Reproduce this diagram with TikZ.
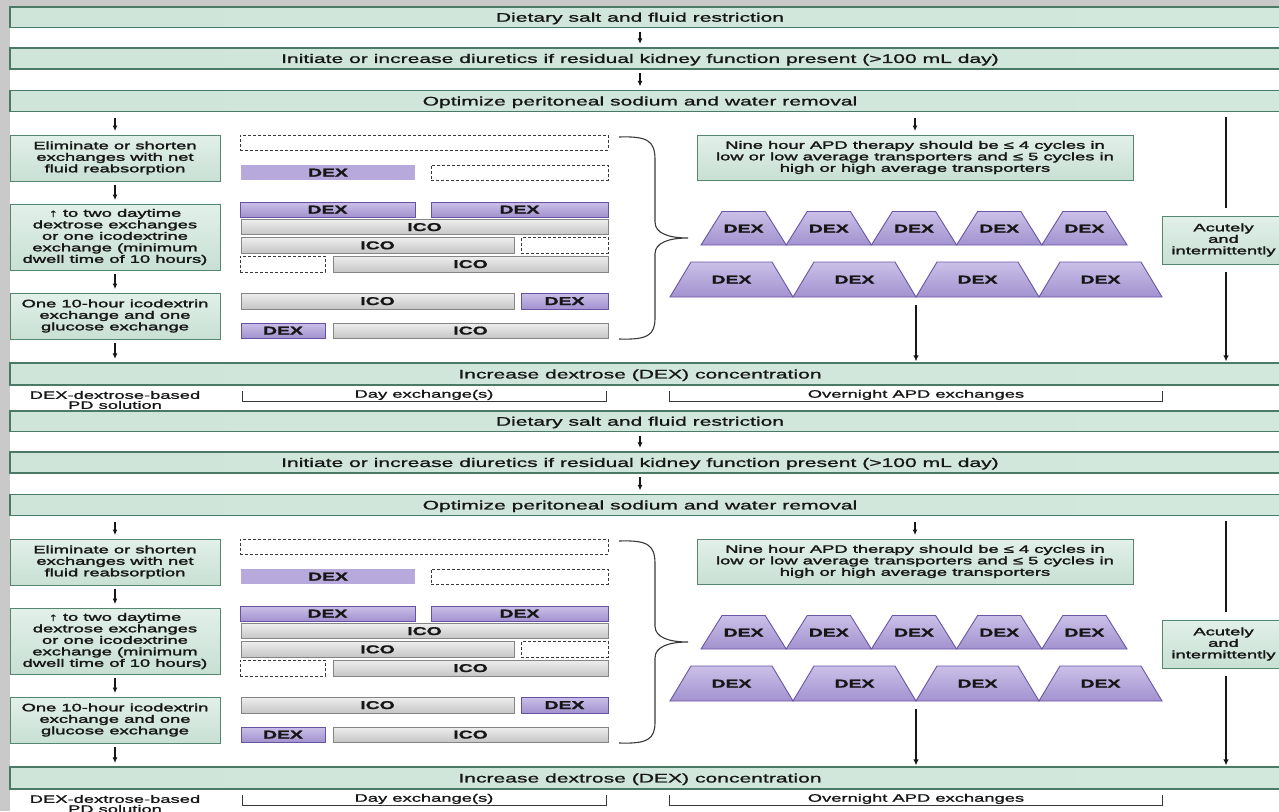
\documentclass[tikz,border=0pt]{standalone}
\usepackage{fontspec}
\setmainfont{Liberation Sans}[FakeStretch=1.7, FakeBold=1.2]
\newfontfamily\boxfont{Liberation Sans}[FakeStretch=1.7, FakeBold=2.2]
\usetikzlibrary{arrows.meta}

\definecolor{ink}{HTML}{161616}
\definecolor{slide}{HTML}{C9C9C9}
\definecolor{banEdge}{HTML}{4A7A65}
\definecolor{banL}{HTML}{CFE5DA}
\definecolor{banM}{HTML}{E2F1EA}
\definecolor{banR}{HTML}{D3E8DD}
\definecolor{boxEdge}{HTML}{55866F}
\definecolor{boxT}{HTML}{E2F0E9}
\definecolor{boxB}{HTML}{C8E0D3}
\definecolor{dexT}{HTML}{CBC0E8}
\definecolor{dexB}{HTML}{A292CF}
\definecolor{dexEdge}{HTML}{6652A2}
\definecolor{dexFlat}{HTML}{B8A9DC}
\definecolor{icoT}{HTML}{EEEEEE}
\definecolor{icoB}{HTML}{C6C6C6}
\definecolor{icoEdge}{HTML}{858585}
\definecolor{trapEdge}{HTML}{6A56A4}

\tikzset{
  banner/.style={draw=banEdge, line width=1.2pt, left color=banL, middle color=banM,
    right color=banR, minimum width=1280pt, inner sep=0pt},
  bantext/.style={font=\fontsize{12.4}{13}\selectfont, text=ink, inner sep=0pt,
    text height=8.9pt, text depth=0pt},
  gbox/.style={draw=boxEdge, line width=0.9pt, top color=boxT, bottom color=boxB,
    font=\boxfont\fontsize{10.8}{11.5}\selectfont, text=ink, align=center, inner sep=0pt},
  lbl/.style={font=\fontsize{10.8}{10}\selectfont, text=ink, align=center, inner sep=0pt},
  barbase/.style={inner sep=0pt, line width=0.8pt, text=ink,
    font=\fontsize{11.4}{12}\selectfont\bfseries, text height=8.1pt, text depth=0pt},
  dexbar/.style={barbase, draw=dexEdge, top color=dexT, bottom color=dexB},
  dexflat/.style={barbase, fill=dexFlat},
  icobar/.style={barbase, draw=icoEdge, top color=icoT, bottom color=icoB},
  dashbox/.style={barbase, draw=ink!85, fill=white, dash pattern=on 3pt off 2pt},
  trap/.style={draw=trapEdge, line width=0.9pt, top color=dexT, bottom color=dexB},
  traptext/.style={font=\fontsize{11.4}{12}\selectfont\bfseries, text=ink, inner sep=0pt,
    text height=8.1pt, text depth=0pt},
  sarr/.style={draw=ink, line width=1.2pt, -{Latex[length=5.5pt,width=5pt]},
    shorten <=3.5pt, shorten >=3.5pt},
  larr/.style={draw=ink, line width=1.2pt, -{Latex[length=6pt,width=5.5pt]}},
  plainline/.style={draw=ink, line width=1.2pt},
  bracefig/.style={draw=ink!85, line width=1.1pt},
  bracket/.style={draw=ink!85, line width=0.8pt}
}

% one exchange bar: name, style, x1, y1, x2, y2, label
\newcommand\pbar[7]{%
  \node[#2, minimum width={(#5-#3)*1pt}, minimum height={(#6-#4)*1pt}]
    (#1) at ({(#3+#5)/2},{(#4+#6)/2}) {#7};}

\newcommand\drawpanel{%
  % full-width steps
  \node[banner, minimum height=20.5pt] (b1) at (650,17.25) {};
  \node[bantext] (b1t) at (640,17.25) {Dietary salt and fluid restriction};
  \node[banner, minimum height=21pt] (b2) at (650,58.5) {};
  \node[bantext] (b2t) at (640,58.5)
    {Initiate or increase diuretics if residual kidney function present (>100 mL day)};
  \node[banner, minimum height=21pt] (b3) at (650,101) {};
  \node[bantext] (b3t) at (640,101) {Optimize peritoneal sodium and water removal};
  \node[banner, minimum height=22pt] (b4) at (650,374) {};
  \node[bantext] (b4t) at (640,374) {Increase dextrose (DEX) concentration};
  \draw[sarr] (b1.south -| b1t) -- (b2.north -| b1t);
  \draw[sarr] (b2.south -| b2t) -- (b3.north -| b2t);
  % left column of steps
  \node[gbox, minimum width=210pt, minimum height=46pt] (e1) at (115,158)
    {Eliminate or shorten\\exchanges with net\\fluid reabsorption};
  \node[gbox, minimum width=210pt, minimum height=66pt] (e2) at (115,237)
    {↑ to two daytime\\dextrose exchanges\\or one icodextrine\\exchange (minimum\\dwell time of 10 hours)};
  \node[gbox, minimum width=210pt, minimum height=46pt] (e3) at (115,316)
    {One 10-hour icodextrin\\exchange and one\\glucose exchange};
  \draw[sarr, shorten <=6pt] (e1.north |- b3.south) -- (e1.north);
  \draw[sarr] (e1.south) -- (e2.north);
  \draw[sarr] (e2.south) -- (e3.north);
  \draw[sarr] (e3.south) -- (e3.south |- b4.north);
  % day exchange bars
  \pbar{r1a}{dashbox}{240}{135}{608}{150}{}
  \pbar{r2a}{dexflat}{241}{165}{415}{180}{DEX}
  \pbar{r2b}{dashbox}{431}{165}{608}{180}{}
  \pbar{r3a}{dexbar}{240}{202}{415}{217}{DEX}
  \pbar{r3b}{dexbar}{431}{202}{608}{217}{DEX}
  \pbar{r4a}{icobar}{241}{219.5}{608}{234.5}{ICO}
  \pbar{r5a}{icobar}{241}{237.5}{514}{253}{ICO}
  \pbar{r5b}{dashbox}{521}{237.5}{608}{253}{}
  \pbar{r6a}{dashbox}{240}{256}{325}{272}{}
  \pbar{r6b}{icobar}{333}{256}{608}{272}{ICO}
  \pbar{r7a}{icobar}{241}{293}{514}{309}{ICO}
  \pbar{r7b}{dexbar}{521}{293}{608}{309}{DEX}
  \pbar{r8a}{dexbar}{241}{323}{325}{338}{DEX}
  \pbar{r8b}{icobar}{333}{323}{608}{338}{ICO}
  % curly brace gathering the day options
  \draw[bracefig] (619,137) .. controls (648,136) and (655,141) .. (655,160)
    -- (655,222) .. controls (655,233) and (668,238) .. (688,238)
    .. controls (668,238) and (655,243) .. (655,254)
    -- (655,318) .. controls (655,335) and (648,340) .. (619,339);
  % overnight APD
  \node[gbox, minimum width=436pt, minimum height=45pt] (apd) at (915,157.5)
    {Nine hour APD therapy should be ≤ 4 cycles in\\low or low average transporters and ≤ 5 cycles in\\high or high average transporters};
  \draw[sarr, shorten <=6pt] (apd.north |- b3.south) -- (apd.north);
  \foreach \i in {0,...,4}{
    \pgfmathsetmacro\xa{701+85.2*\i}
    \pgfmathsetmacro\xb{\xa+85.2}
    \draw[trap] (\xa,245) -- (\xa+21,211.5) -- (\xb-21,211.5) -- (\xb,245) -- cycle;
    \node[traptext] (tu\i) at ({(\xa+\xb)/2},228.5) {DEX};
  }
  \foreach \i in {0,...,3}{
    \pgfmathsetmacro\xa{670+123*\i}
    \pgfmathsetmacro\xb{\xa+123}
    \draw[trap] (\xa,297) -- (\xa+21,262) -- (\xb-21,262) -- (\xb,297) -- cycle;
    \node[traptext] (tl\i) at ({(\xa+\xb)/2},279.5) {DEX};
  }
  \coordinate (tj) at (916,305);
  \draw[larr, shorten >=1pt] (tj) -- (tj |- b4.north);
  % acute branch on the right
  \node[gbox, minimum width=123pt, minimum height=48pt] (acu) at (1223.5,240)
    {Acutely\\and\\intermittently};
  \coordinate (rl) at (1226,117);
  \draw[plainline, shorten >=8pt] (rl) -- (rl |- acu.north);
  \draw[larr, shorten <=8pt, shorten >=1pt] (acu.south -| rl) -- (rl |- b4.north);
  % legend row
  \node[lbl] (leg) at (115,400) {DEX-dextrose-based\\PD solution};
  \node[lbl, text height=7.4pt, text depth=2pt] (dayl) at (424,395) {Day exchange(s)};
  \draw[bracket] (242,391) -- (242,401) -- (606,401) -- (606,391);
  \node[lbl, text height=7.4pt, text depth=2pt] (ngtl) at (916,395) {Overnight APD exchanges};
  \draw[bracket] (669,391) -- (669,401) -- (1162,401) -- (1162,391);
}

\begin{document}
\begin{tikzpicture}[x=1pt,y=-1pt]
  \useasboundingbox (0,0) rectangle (1279,811);
  \clip (0,0) rectangle (1279,811);
  \fill[slide] (0,0) rectangle (1279,811);
  \fill[white] (10,7) rectangle (1290,830);
  \drawpanel
  \fill[white] (10,408.5) rectangle (1290,830);
  \begin{scope}[shift={(0,404)}, name prefix=lo-]
    \drawpanel
  \end{scope}
\end{tikzpicture}
\end{document}
